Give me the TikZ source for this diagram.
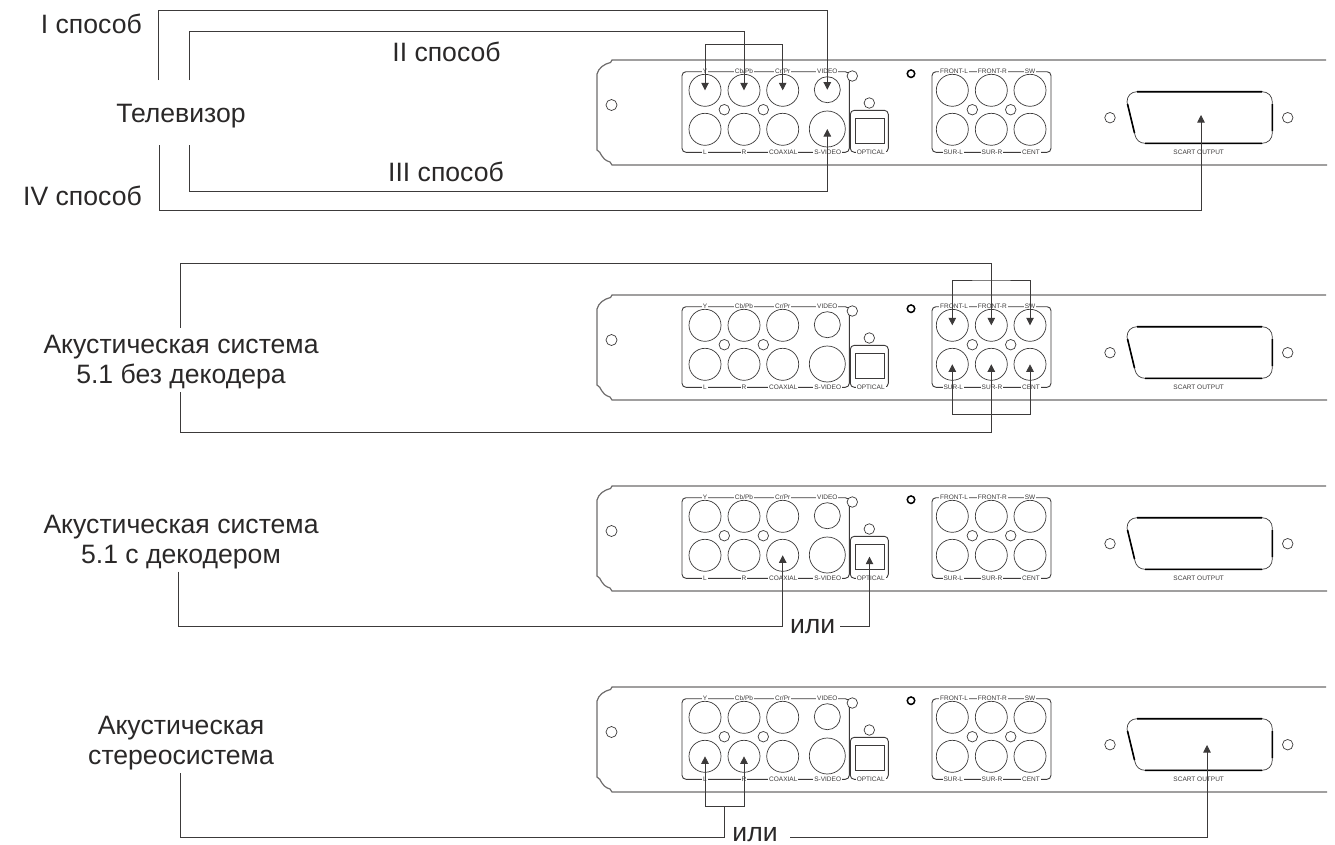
\documentclass[tikz,border=0pt]{standalone}
\usepackage{fontspec}
\setmainfont{Liberation Sans}
\usetikzlibrary{arrows.meta}
\definecolor{inkgray}{RGB}{60,58,58}
\definecolor{inkdark}{RGB}{42,40,40}
\tikzset{
  panelline/.style={draw=inkgray!75, line width=1.2pt},
  jack/.style={circle, draw=inkgray, line width=0.7pt, inner sep=0pt, minimum size=#1},
  jack/.default=32pt,
  tag/.style={fill=white, inner xsep=1pt, inner ysep=0.3pt, text height=4.8pt, text depth=0.6pt, text=inkgray, font=\fontsize{6.5}{7}\selectfont},
  wire/.style={draw=inkgray, line width=0.8pt, arrows={-}},
  tipline/.style={wire, -{Triangle[length=7.5pt,width=7.5pt]}},
  tiptwo/.style={wire, {Triangle[length=7.5pt,width=7.5pt]}-{Triangle[length=7.5pt,width=7.5pt]}},
  caption/.style={text=inkdark, align=center, inner sep=0pt, font=\fontsize{26.6}{29.7}\selectfont},
  backpanel/.pic={
    \draw[panelline] (1326,0) -- (612,0) -- (610.5,2.5) .. controls (604,4) and (598.5,8) .. (597,14) -- (597,90)
      .. controls (602,92) and (600,99) .. (610,102) -- (612,105) -- (1327,105);
    \node[jack=11pt] (hole) at (611.5,45) {};
    \draw[inkgray, line width=0.9pt, rounded corners=4pt] (682,11.7) rectangle (849.3,92.3);
    \draw[inkgray, line width=0.9pt, rounded corners=4pt] (932,11.7) rectangle (1051,92.3);
    \foreach \txt/\xx/\yy in {Y/705/11.7, {Cb/Pb}/744/11.7, {Cr/Pr}/782.7/11.7, VIDEO/827.3/11.7,
        L/705/92.3, R/744/92.3, COAXIAL/783.3/92.3, S-VIDEO/827.7/92.3,
        FRONT-L/954/11.7, FRONT-R/992.3/11.7, SW/1030/11.7, SUR-L/953.3/92.3, SUR-R/992/92.3, CENT/1031/92.3,
        SCART OUTPUT/1198.7/92.3}
      \node[tag] at (\xx,\yy) {\txt};
    \foreach \nm/\xx/\yy in {y/705/30.3, cb/744/30.3, cr/782.7/30.3, l/705/69.3, r/744/69.3, coax/782.7/69.3,
        fl/952.3/30.3, fr/991.3/30.3, sw/1030/30.3, sl/952.3/69.3, sr/991.3/69.3, cent/1030/69.3}
      \node[jack] (\nm) at (\xx,\yy) {};
    \node[jack=26pt] (video) at (827.3,29.7) {};
    \node[jack=36pt] (svideo) at (827.3,69) {};
    \foreach \nm/\xx/\yy in {a/724.3/49.7, b/763.3/49.7, c/972.3/49.7, d/1010.7/49.7, e/1110/57.7, f/1287.7/57.7}
      \node[jack=10.5pt] (hole\nm) at (\xx,\yy) {};
    \draw[inkgray, line width=0.9pt, rounded corners=4pt] (850.3,50.3) rectangle (888.3,92.3);
    \node[draw=inkgray, line width=0.9pt, inner sep=0pt, minimum width=29pt, minimum height=25.3pt] (optical) at (869.5,70.7) {};
    \node[tag] at (870.7,92.3) {OPTICAL};
    \node[jack=10.5pt, fill=white] (holeg) at (852.3,16) {};
    \node[jack=10.5pt] (holeh) at (869.3,43) {};
    \node[circle, draw=black, line width=1.5pt, inner sep=0pt, minimum size=7.5pt] (dot) at (911,13.7) {};
    % scart outline
    \draw[inkgray, line width=0.7pt] (1127,42) .. controls (1127,36) and (1131,31.7) .. (1137,31.7) -- (1262,31.7)
      .. controls (1268,31.7) and (1272.3,36) .. (1272.3,42) -- (1272.3,73)
      .. controls (1272.3,79) and (1268,83.3) .. (1262,83.3) -- (1145,83.3)
      .. controls (1140,83.3) and (1136,80) .. (1135,75) -- cycle;
    \draw[black, line width=1.6pt] (1137,31.7) -- (1262,31.7) (1272.3,44) -- (1272.3,71) (1145,83.3) -- (1262,83.3) (1127.5,44) -- (1134.5,73);
    \coordinate (scart) at (1201,55);
  }
}
\begin{document}
\begin{tikzpicture}[x=1pt,y=-1pt]
\useasboundingbox (0,0) rectangle (1335,844);
\pic (pa) at (0,60) {backpanel};
\pic (pb) at (0,295) {backpanel};
\pic (pc) at (0,486) {backpanel};
\pic (pd) at (0,687) {backpanel};

\node[caption, anchor=base east] (way1) at (142,33) {I способ};
\node[caption, anchor=base] (way2) at (446.5,61) {II способ};
\node[caption, anchor=base] (way3) at (446,181) {III способ};
\node[caption, anchor=base east] (way4) at (142,205) {IV способ};
\node[caption, anchor=base] (tv) at (181,122) {Телевизор};
\node[caption] (nodecoder) at (181,362) {Акустическая система\\5.1 без декодера};
\node[caption] (decoder) at (181,542) {Акустическая система\\5.1 с декодером};
\node[caption] (stereo) at (181,743) {Акустическая\\стереосистема};
\node[caption, anchor=base, inner xsep=4.5pt] (orc) at (812.7,633.5) {или};
\node[caption, anchor=base] (ord) at (755,841) {или};

% television
\coordinate (tva) at (158.3,80);
\coordinate (tvb) at (189,80);
\coordinate (tvc) at (189,145);
\coordinate (tvd) at (159.3,145);
\coordinate (turna) at (158.3,10);
\coordinate (turnb) at (189,31.7);
\coordinate (turnc) at (189,191.7);
\coordinate (turnd) at (159.3,210);
\draw[tipline] (tva) -- (turna) -| (pavideo.center);
\draw[tipline] (tvb) -- (turnb) -| (pacb.center);
\draw[tipline] (tvc) -- (turnc) -| (pasvideo.center);
\draw[tipline] (tvd) -- (turnd) -| (pascart);
\coordinate (brida) at (744,44.3);
\draw[tiptwo] (pay.center) |- (brida) -| (pacr.center);

% speakers without decoder
\coordinate (spka) at (180,327.7);
\coordinate (spkb) at (180,392.3);
\coordinate (turne) at (180,263.3);
\coordinate (turnf) at (180,432);
\draw[tipline] (spka) -- (turne) -| (pbfr.center);
\draw[tipline] (spkb) -- (turnf) -| (pbsr.center);
\coordinate (bridb) at (991.3,280);
\coordinate (bridc) at (991.3,414.3);
\draw[tiptwo] (pbfl.center) |- (bridb) -| (pbsw.center);
\draw[tiptwo] (pbsl.center) |- (bridc) -| (pbcent.center);

% speakers with decoder
\coordinate (deca) at (178.3,571.7);
\coordinate (turng) at (178.3,626.7);
\draw[tipline] (deca) -- (turng) -| (pccoax.center);
\draw[tipline] (orc.east |- turng) -| (pcoptical.center);

% stereo
\coordinate (stea) at (180,773);
\coordinate (turnh) at (180,837.7);
\coordinate (bridd) at (724,806.7);
\coordinate (orend) at (790,837.7);
\coordinate (scartd) at (1207,745);
\draw[tiptwo] (pdl.center) |- (bridd) -| (pdr.center);
\draw[wire] (stea) -- (turnh) -| (bridd);
\draw[tipline] (orend) -| (scartd);
\end{tikzpicture}
\end{document}
